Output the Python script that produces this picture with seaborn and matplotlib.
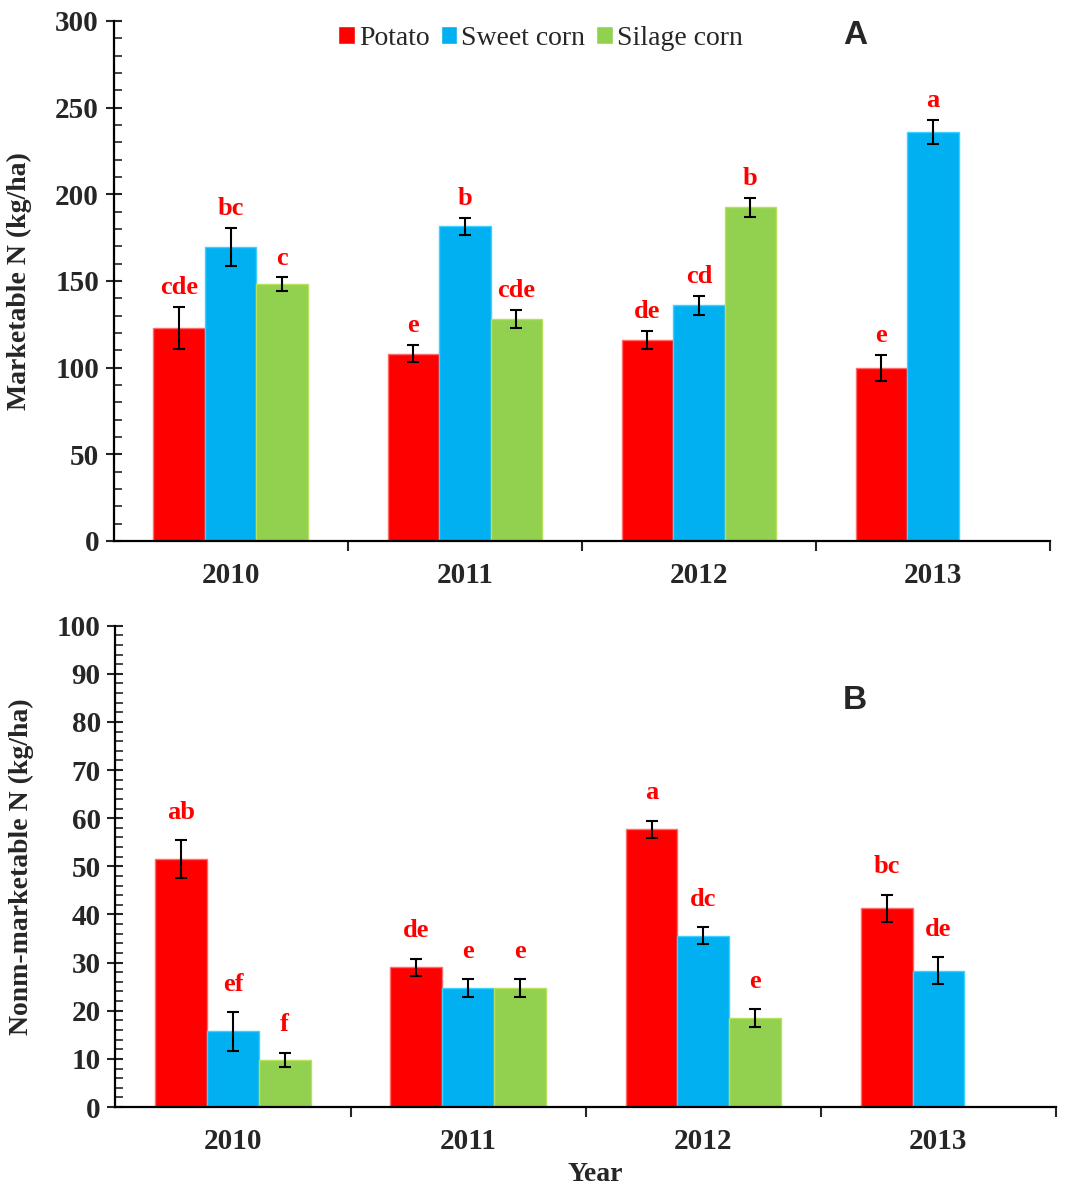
import numpy as np
import pandas as pd
import seaborn as sns
import matplotlib.pyplot as plt
from matplotlib.ticker import MultipleLocator

years = ['2010', '2011', '2012', '2013']
crops = ['Potato', 'Sweet corn', 'Silage corn']

# panel A - marketable N (kg/ha), 2013 has no silage corn
mkt_potato = [123, 108, 116, 100]
mkt_sweet = [169.5, 181.5, 136, 236]
mkt_silage = [148, 128, 192.5, np.nan]
mkt_err_potato = [12, 5, 5, 7.5]
mkt_err_sweet = [11, 5, 5.5, 7]
mkt_err_silage = [4, 5, 5.5, np.nan]
mkt_letters_potato = ['cde', 'e', 'de', 'e']
mkt_letters_sweet = ['bc', 'b', 'cd', 'a']
mkt_letters_silage = ['c', 'cde', 'b', '']

# panel B - non-marketable N (kg/ha)
non_potato = [51.5, 29, 57.7, 41.3]
non_sweet = [15.7, 24.7, 35.6, 28.3]
non_silage = [9.8, 24.7, 18.5, np.nan]
non_err_potato = [4, 1.8, 1.8, 2.8]
non_err_sweet = [4, 1.8, 1.8, 2.8]
non_err_silage = [1.5, 1.8, 1.9, np.nan]
non_letters_potato = ['ab', 'de', 'a', 'bc']
non_letters_sweet = ['ef', 'e', 'dc', 'de']
non_letters_silage = ['f', 'e', 'e', '']

colors = ['#FF0000', '#00B0F0', '#92D050']
edges = ['#FF6A6A', '#3FD0FF', '#B8E05A']


def make_df(vals, errs, letters):
    rows = []
    for crop, v, e, l in zip(crops, vals, errs, letters):
        for yr, vv, ee, ll in zip(years, v, e, l):
            rows.append({'Year': yr, 'Crop': crop, 'N': vv, 'err': ee, 'letter': ll})
    return pd.DataFrame(rows)


df_a = make_df([mkt_potato, mkt_sweet, mkt_silage],
               [mkt_err_potato, mkt_err_sweet, mkt_err_silage],
               [mkt_letters_potato, mkt_letters_sweet, mkt_letters_silage])
df_b = make_df([non_potato, non_sweet, non_silage],
               [non_err_potato, non_err_sweet, non_err_silage],
               [non_letters_potato, non_letters_sweet, non_letters_silage])

sns.set_style('ticks')
plt.rcParams['font.family'] = ['Liberation Serif', 'DejaVu Serif']

fig = plt.figure(figsize=(10.78, 11.91), dpi=100)
ax_a = fig.add_axes([0.1054, 0.5458, 0.8686, 0.4366])
ax_b = fig.add_axes([0.107, 0.0705, 0.8726, 0.4042])


def draw(ax, df, ymax, major, minor, ylabel, letter_pad):
    sns.barplot(data=df, x='Year', y='N', hue='Crop', hue_order=crops, order=years,
                palette=colors, errorbar=None, width=0.66, saturation=1, ax=ax)
    bar_groups = list(ax.containers)
    for i, cont in enumerate(bar_groups):
        sub = df[df['Crop'] == crops[i]].set_index('Year')
        for bar in cont:
            bar.set_edgecolor(edges[i])
            bar.set_linewidth(1)
            h = bar.get_height()
            if np.isnan(h) or h == 0:
                continue
            xc = bar.get_x() + bar.get_width() / 2
            yr = years[int(round(xc))]
            e = sub.loc[yr, 'err']
            ax.errorbar(xc, h, yerr=e, color='black', capsize=4, elinewidth=1.5,
                        capthick=1.5, zorder=5)
            ax.annotate(sub.loc[yr, 'letter'], (xc, h + e), xytext=(0, letter_pad),
                        textcoords='offset points', ha='center', va='center',
                        color='red', fontsize=19, fontweight='bold')
    ax.set_ylim(0, ymax)
    ax.set_xlim(-0.5, 3.5)
    ax.yaxis.set_major_locator(MultipleLocator(major))
    ax.yaxis.set_minor_locator(MultipleLocator(minor))
    ax.tick_params(axis='y', which='major', direction='inout', length=11, width=1.5,
                   labelsize=21, pad=5)
    ax.tick_params(axis='y', which='minor', direction='in', length=6, width=1.2)
    ax.set_xticks([0.5, 1.5, 2.5, 3.5])
    ax.set_xticklabels([])
    ax.set_xticks(range(4), minor=True)
    ax.set_xticklabels(years, minor=True)
    ax.tick_params(axis='x', which='major', direction='out', length=7, width=1.5)
    ax.tick_params(axis='x', which='minor', length=0, labelsize=21, pad=15)
    for t in ax.get_yticklabels() + ax.get_xticklabels(minor=True):
        t.set_fontweight('bold')
    sns.despine(ax=ax)
    for s in ['left', 'bottom']:
        ax.spines[s].set_linewidth(1.6)
        ax.spines[s].set_color('black')
    ax.set_xlabel('')
    ax.set_ylabel(ylabel, fontsize=20, fontweight='bold')
    ax.yaxis.set_label_coords(-0.087, 0.5)


draw(ax_a, df_a, 300, 50, 10, 'Marketable N (kg/ha)', 14)
draw(ax_b, df_b, 100, 10, 2, 'Nonm-marketable N (kg/ha)', 20)

ax_a.legend(loc='center', bbox_to_anchor=(0.456, 0.967), ncol=3, frameon=False,
            fontsize=20, handlelength=0.6, handleheight=0.6, handletextpad=0.15,
            columnspacing=0.4, borderaxespad=0)
ax_b.get_legend().remove()

ax_a.text(0.792, 0.973, 'A', transform=ax_a.transAxes, ha='center', va='center',
          fontsize=24, fontweight='bold', family='Liberation Sans')
ax_b.text(0.786, 0.845, 'B', transform=ax_b.transAxes, ha='center', va='center',
          fontsize=24, fontweight='bold', family='Liberation Sans')

fig.text(0.552, 0.003, 'Year', ha='center', va='bottom', fontsize=20, fontweight='bold')

plt.savefig('out.png', dpi=100)
